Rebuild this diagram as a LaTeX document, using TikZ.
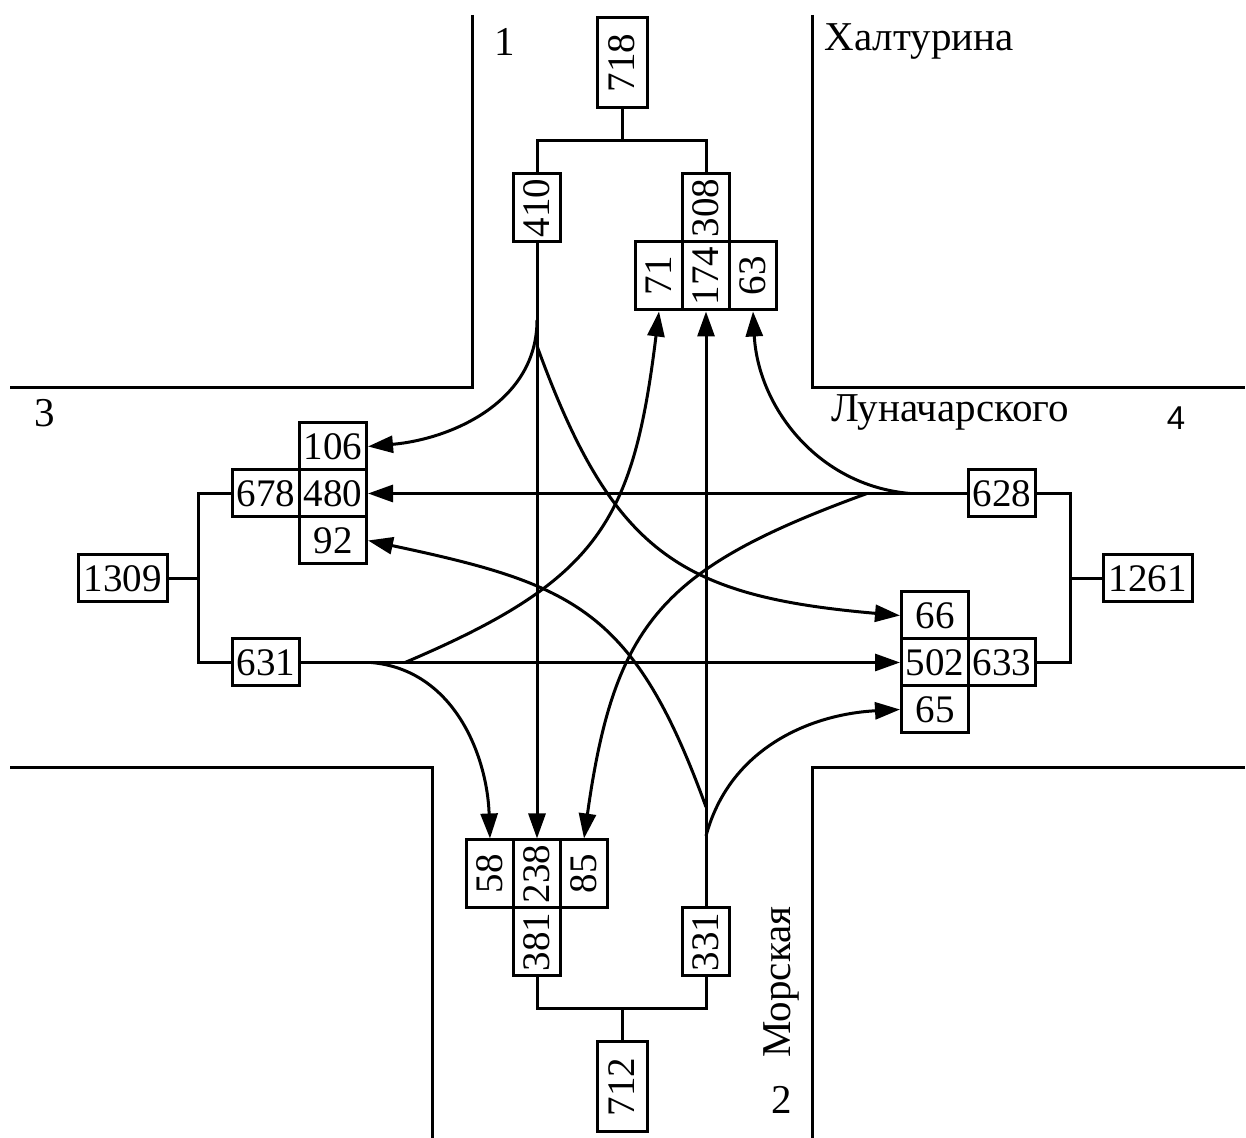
\documentclass[tikz,border=0pt]{standalone}
\usepackage{fontspec}
\setmainfont{Liberation Serif}
\newfontfamily\numfont{Liberation Sans}
\usetikzlibrary{arrows.meta}

\begin{document}
\begin{tikzpicture}[x=0.5pt, y=0.5pt, line width=1.5pt,
    cell/.style={draw, minimum width=33.5pt, minimum height=23.5pt, inner sep=0pt, font=\fontsize{19.5}{20}\selectfont},
    vcell/.style={cell, minimum width=23.5pt, minimum height=34pt},
    bigcell/.style={cell, minimum width=44.5pt},
    vbigcell/.style={cell, minimum width=25pt, minimum height=45pt},
    street/.style={inner sep=0pt, font=\fontsize{20.5}{22}\selectfont},
    flow/.style={-{Triangle[length=12.5pt,width=8.5pt]}}]
        \useasboundingbox (0,0) rectangle (1246,1138);

        % roads
        \draw (472,1123) -- (472,750) -- (10,750);
        \draw (812,1123) -- (812,750) -- (1245,750);
        \draw (10,370) -- (432,370) -- (432,0);
        \draw (1245,370) -- (812,370) -- (812,0);

        % street names
        \node[street] (lab1) at (505,1096) {1};
        \node[street, anchor=west] (khalt) at (823,1096) {Халтурина};
        \node[street] (lab3) at (45,725) {3};
        \node[street] (lunach) at (950,725) {Луначарского};
        \node[street, font=\numfont\fontsize{16.5}{18}\selectfont] (lab4) at (1176,720) {4};
        \node[street, rotate=90] (morsk) at (781,156) {Морская};
        \node[street] (lab2) at (782,38) {2};

        % top
        \node[vbigcell] (c718) at (622,1075) {\rotatebox{90}{718}};
        \node[vcell] (c410) at (537,930) {\rotatebox{90}{410}};
        \node[vcell] (c308) at (706,930) {\rotatebox{90}{308}};
        \node[vcell] (c71) at (659,862) {\rotatebox{90}{71}};
        \node[vcell] (c174) at (706,862) {\rotatebox{90}{174}};
        \node[vcell] (c63) at (753,862) {\rotatebox{90}{63}};

        % left
        \node[cell] (c106) at (333,691.5) {106};
        \node[cell] (c678) at (266,644.5) {678};
        \node[cell] (c480) at (333,644.5) {480};
        \node[cell] (c92) at (333,597.5) {92};
        \node[bigcell] (c1309) at (122.5,559.5) {1309};
        \node[cell] (c631) at (266,475.5) {631};

        % right
        \node[cell] (c628) at (1002,644.5) {628};
        \node[cell] (c66) at (935,522.5) {66};
        \node[cell] (c502) at (935,475.5) {502};
        \node[cell] (c633) at (1002,475.5) {633};
        \node[cell] (c65) at (935,428.5) {65};
        \node[bigcell] (c1261) at (1147.5,559.5) {1261};

        % bottom
        \node[vcell] (c58) at (490,264) {\rotatebox{90}{58}};
        \node[vcell] (c238) at (537,264) {\rotatebox{90}{238}};
        \node[vcell] (c85) at (584,264) {\rotatebox{90}{85}};
        \node[vcell] (c381) at (537,196) {\rotatebox{90}{381}};
        \node[vcell] (c331) at (706,196) {\rotatebox{90}{331}};
        \node[vbigcell] (c712) at (622,51) {\rotatebox{90}{712}};

        % sums
        \coordinate (tbus) at (622,997);
        \coordinate (lbus) at (198,559.5);
        \coordinate (rbus) at (1070,559.5);
        \coordinate (bbus) at (622,129);
        \draw (c410.north) |- (tbus) -| (c308.north);
        \draw (tbus) -- (c718.south);
        \draw (c678.west) -| (lbus) |- (c631.west);
        \draw (lbus) -- (c1309.east);
        \draw (c628.east) -| (rbus) |- (c633.east);
        \draw (rbus) -- (c1261.west);
        \draw (c381.south) |- (bbus) -| (c331.south);
        \draw (bbus) -- (c712.north);

        % flows from 1
        \coordinate (s410a) at (537,818);
        \coordinate (s410b) at (537,792);
        \draw[flow] (c410.south) -- (c238.north);
        \draw[flow] (s410a) to[out=-90, in=5] (c106.east);
        \draw[flow] (s410b) to[out=-70, in=175, looseness=1.25] (c66.west);

        % flows from 3
        \coordinate (s631a) at (371,475.5);
        \coordinate (s631b) at (405,475.5);
        \draw[flow] (c631.east) -- (c502.west);
        \draw[flow] (s631a) to[out=-5, in=92] (c58.north);
        \draw[flow] (s631b) to[out=23, in=-97, looseness=1.25] (c71.south);

        % flows from 4
        \coordinate (s628a) at (910,644.5);
        \coordinate (s628b) at (867,644.5);
        \draw[flow] (c628.west) -- (c480.east);
        \draw[flow] (s628a) to[out=175, in=-87] (c63.south);
        \draw[flow] (s628b) to[out=200, in=82, looseness=1.25] (c85.north);

        % flows from 2
        \coordinate (s331a) at (706,302);
        \coordinate (s331b) at (706,331);
        \draw[flow] (c331.north) -- (c174.south);
        \draw[flow] (s331a) to[out=75, in=183] (c65.west);
        \draw[flow] (s331b) to[out=110, in=-12, looseness=1.25] (c92.east);
    \end{tikzpicture}
\end{document}
